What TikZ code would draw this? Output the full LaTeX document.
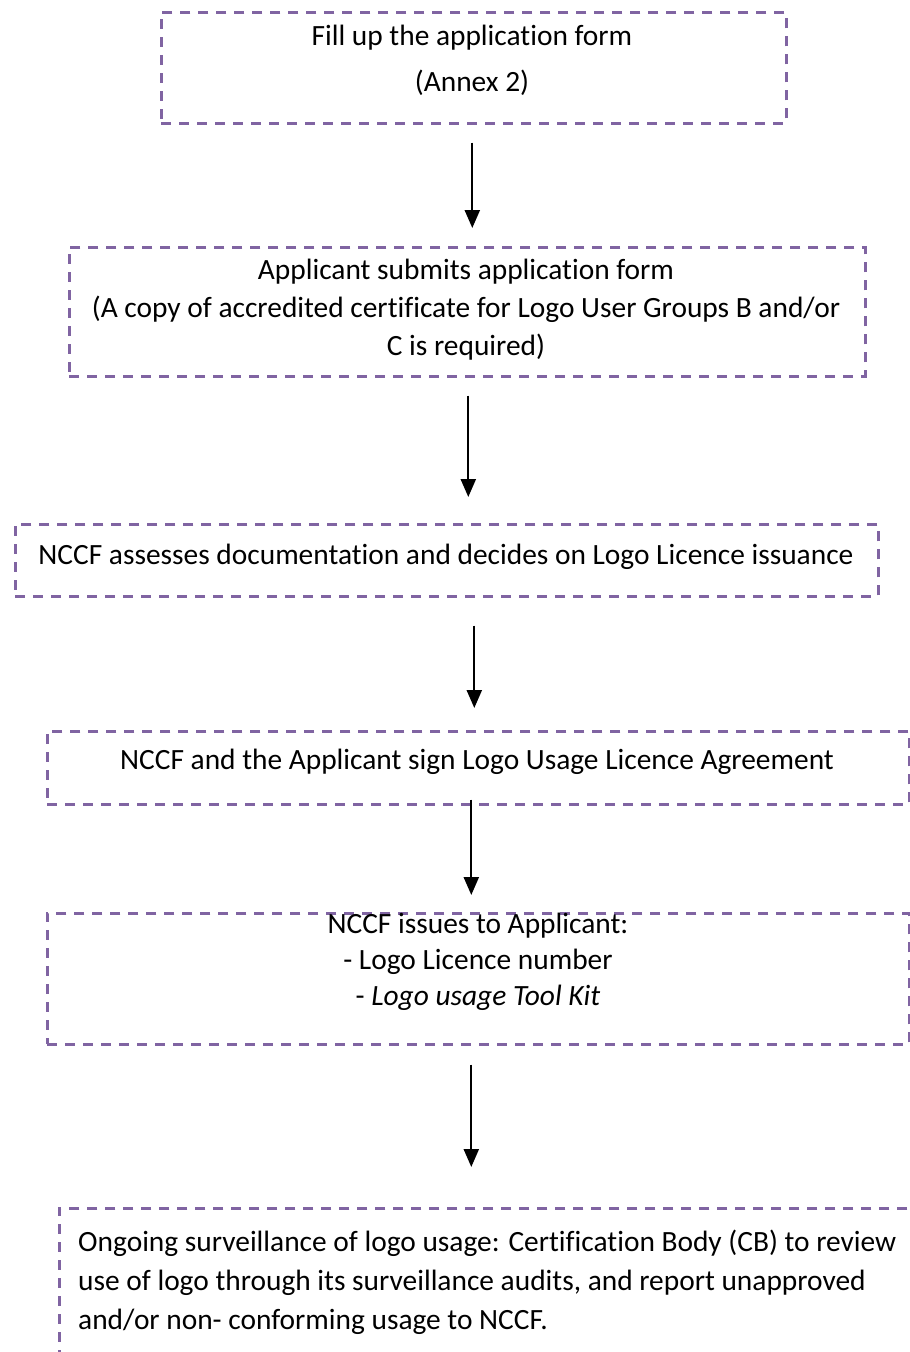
\documentclass[tikz,border=0pt]{standalone}
\usepackage{fontspec}
\setmainfont[Ligatures=NoCommon]{Carlito}
\usetikzlibrary{arrows.meta}
\definecolor{boxpurple}{RGB}{128,100,162}
\tikzset{
  flowbox/.style={draw=boxpurple, line width=2.6pt, dash pattern=on 10pt off 8pt, inner sep=0pt, anchor=north west},
  lbl/.style={font=\fontsize{29.4}{38}\selectfont, align=center, inner sep=0pt},
  arr/.style={line width=2.3pt, -{Triangle[length=18pt,width=15pt]}}
}
\begin{document}
\begin{tikzpicture}[x=1pt,y=-1pt]
\useasboundingbox (0,0) rectangle (910,1352);
\clip (0,0) rectangle (910,1352);
\fill[white] (0,0) rectangle (910,1352);
% boxes
\node[flowbox, minimum width=625pt, minimum height=111pt] (b1) at (160,11) {};
\node[flowbox, minimum width=796pt, minimum height=129pt] (b2) at (68,246) {};
\node[flowbox, minimum width=863pt, minimum height=72pt] (b3) at (14,523) {};
\node[flowbox, minimum width=862pt, minimum height=73pt] (b4) at (46,730) {};
\node[flowbox, minimum width=862pt, minimum height=131pt] (b5) at (46,912) {};
\node[flowbox, minimum width=900pt, minimum height=200pt] (b6) at (58,1207) {};
% texts
\node[lbl, font=\fontsize{29.4}{46}\selectfont] (t1) at (472,60) {Fill up the application form\\(Annex 2)};
\node[lbl] (t2) at (466,310) {Applicant submits application form\\(A copy of accredited certificate for Logo User Groups B and/or\\C is required)};
\node[lbl] (t3) at (446,557) {NCCF assesses documentation and decides on Logo Licence issuance};
\node[lbl] (t4) at (477,762) {NCCF and the Applicant sign Logo Usage Licence Agreement};
\node[lbl, font=\fontsize{29.4}{36}\selectfont] (t5) at (478,962) {NCCF issues to Applicant:\\- Logo Licence number\\- \textit{Logo usage Tool Kit}};
\node[lbl, font=\fontsize{29.4}{39}\selectfont, align=left, anchor=west] (t6) at (78,1282) {Ongoing surveillance of logo usage: Certification Body (CB) to review\\use of logo through its surveillance audits, and report unapproved\\and/or non- conforming usage to NCCF.};
% arrows
\draw[arr, shorten <=18pt, shorten >=18pt] ([xshift=-1.5pt]b1.south) -- ([xshift=-1.5pt]b1.south |- b2.north);
\draw[arr, shorten <=18pt, shorten >=26pt] ([xshift=1pt]b2.south) -- ([xshift=1pt]b2.south |- b3.north);
\draw[arr, shorten <=28pt, shorten >=22pt] ([xshift=27.5pt]b3.south) -- ([xshift=27.5pt]b3.south |- b4.north);
\draw[arr, shorten <=-6pt, shorten >=17pt] ([xshift=-7pt]b4.south) -- ([xshift=-7pt]b4.south |- b5.north);
\draw[arr, shorten <=19pt, shorten >=40pt] ([xshift=-7pt]b5.south) -- ([xshift=-7pt]b5.south |- b6.north);
\end{tikzpicture}
\end{document}
